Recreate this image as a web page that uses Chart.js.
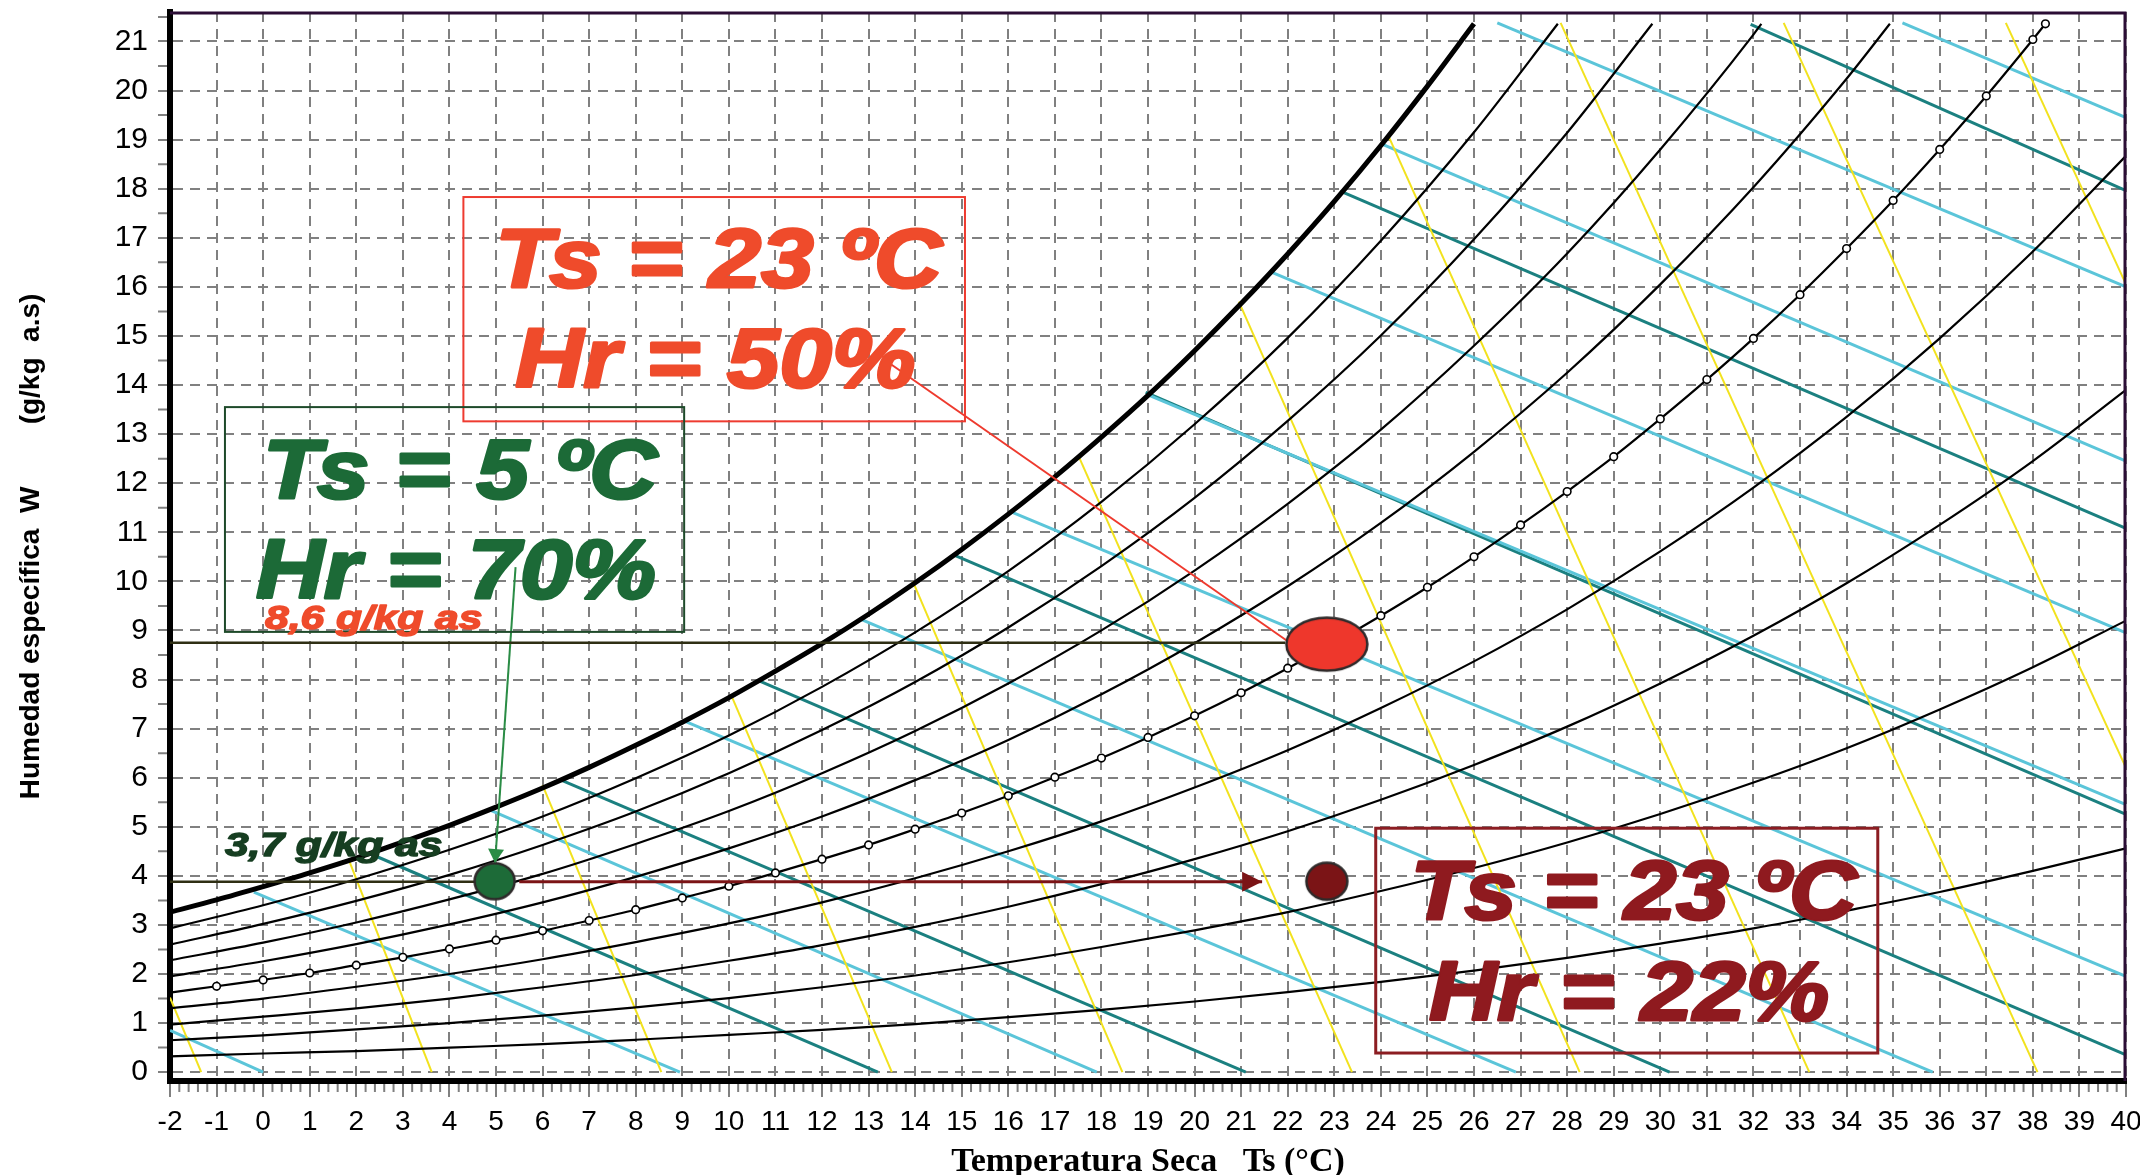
<!DOCTYPE html>
<html>
<head>
<meta charset="utf-8">
<title>Diagrama psicrométrico</title>
<script src="https://cdn.jsdelivr.net/npm/chart.js@4.4.1/dist/chart.umd.min.js"></script>
<style>
  html, body { margin: 0; padding: 0; background: #fff; }
  #chart { display: block; }
</style>
</head>
<body>
<canvas id="chart" width="2140" height="1175"></canvas>
<script>
// Dry-bulb temperatures (°C) at which the curves were read
const tInt = [-2,-1,0,1,2,3,4,5,6,7,8,9,10,11,12,13,14,15,16,17,18,19,20,21,22,23,24,25,26,27,28,29,30,31,32,33,34,35,36,37,38];
const tEven = [-2,0,2,4,6,8,10,12,14,16,18,20,22,24,26,28,30,32,34,36,38,40];

// Specific humidity W (g/kg a.s) along each relative humidity curve
const rh100 = [3.26,3.51,3.78,4.06,4.36,4.69,5.03,5.40,5.79,6.21,6.66,7.13,7.63,8.17,8.73,9.33,9.97,10.65,11.37,12.13,12.94,13.79,14.70,15.66,16.67,17.74,18.88,20.09,21.36];
const rh90 = [2.93,3.40,3.93,4.53,5.21,5.99,6.86,7.85,8.96,10.21,11.62,13.20,14.96,16.94,19.15];
const rh80 = [2.60,3.02,3.49,4.02,4.63,5.31,6.09,6.97,7.95,9.06,10.31,11.70,13.27,15.01,16.97,19.14];
const rh70 = [2.28,2.64,3.05,3.52,4.04,4.65,5.32,6.09,6.95,7.92,9.00,10.22,11.58,13.09,14.80,16.68,18.80,21.14];
const rh60 = [1.95,2.26,2.61,3.01,3.46,3.98,4.56,5.21,5.95,6.77,7.70,8.74,9.90,11.19,12.64,14.25,16.05,18.03,20.24];
const rh50 = [1.62,1.75,1.88,2.02,2.18,2.34,2.51,2.69,2.88,3.09,3.31,3.55,3.79,4.06,4.34,4.63,4.95,5.28,5.63,6.01,6.40,6.82,7.26,7.73,8.23,8.75,9.30,9.88,10.50,11.15,11.83,12.54,13.31,14.11,14.95,15.84,16.78,17.76,18.80,19.89,21.04];
const rh40 = [1.30,1.50,1.74,2.00,2.30,2.65,3.03,3.46,3.95,4.50,5.11,5.80,6.56,7.42,8.37,9.43,10.61,11.91,13.35,14.95,16.72,18.67];
const rh30 = [0.97,1.13,1.30,1.50,1.73,1.98,2.27,2.59,2.96,3.37,3.83,4.34,4.91,5.55,6.26,7.04,7.92,8.89,9.96,11.15,12.45,13.90];
const rh20 = [0.65,0.75,0.87,1.00,1.15,1.32,1.51,1.73,1.97,2.24,2.55,2.89,3.26,3.69,4.16,4.68,5.26,5.90,6.60,7.39,8.25,9.20];
const rh10 = [0.32,0.38,0.43,0.50,0.57,0.66,0.76,0.86,0.98,1.12,1.27,1.44,1.63,1.84,2.07,2.33,2.62,2.93,3.29,3.67,4.10,4.56];

// where the upper curves stop at the top of the chart
const curveTopW = 21.36;
const rh90Top = 27.8, rh80Top = 29.83, rh70Top = 32.17, rh60Top = 34.93, rh50Top = 38.27;

// straight families: [T1, W1, T2, W2]
const yellowLines = [
  [-2, 1.52, -1.33, 0], [1.85, 4.3, 3.62, 0], [6.0, 5.85, 8.55, 0], [10.05, 7.68, 13.5, 0],
  [13.95, 10.0, 18.45, 0], [17.5, 12.57, 23.38, 0], [20.95, 15.7, 28.27, 0], [24.15, 19.1, 33.2, 0],
  [27.86, 21.38, 38.1, 0], [32.65, 21.38, 40, 6.2], [37.42, 21.38, 40, 16.05]
];
const cyanLines = [
  [-2, 0.85, 0, 0], [-0.2, 3.67, 8.95, 0], [4.85, 5.35, 17.9, 0], [9.05, 7.15, 26.9, 0],
  [12.85, 9.22, 35.85, 0], [16.05, 11.42, 40, 1.95], [19.0, 13.8, 40, 5.45], [21.65, 16.3, 40, 8.95],
  [24.05, 18.9, 40, 12.45], [26.5, 21.38, 40, 16.0], [35.2, 21.38, 40, 19.45]
];
const tealLines = [
  [2.3, 4.45, 13.2, 0], [6.4, 5.95, 21.1, 0], [10.65, 7.97, 30.2, 0], [14.8, 10.55, 40, 0.35],
  [18.95, 13.85, 40, 5.25], [23.13, 17.95, 40, 11.08], [31.94, 21.35, 40, 17.96]
];

// the air states and the guide lines between them
const stateT = [4.97, 22.84, 22.84];
const stateW = [3.89, 8.72, 3.89];
const guideLines = [[-2, 8.75, 21.95, 8.75], [-2, 3.88, 4.55, 3.88]];
const heatArrow = [5.5, 3.88, 21.45, 3.88];
const redLeader = [13.38, 14.49, 21.97, 8.8];
const greenLeader = [5.42, 10.29, 4.98, 4.26];

function curve(ts, ws, topT) {
  const d = ws.map((w, i) => ({x: ts[i], y: w}));
  if (topT !== undefined) d.push({x: topT, y: curveTopW});
  return d;
}
function seg(l) { return [{x: l[0], y: l[1]}, {x: l[2], y: l[3]}]; }

function blob(w, h, fill) {
  const c = document.createElement('canvas');
  c.width = w + 5; c.height = h + 5;
  const g = c.getContext('2d');
  g.beginPath();
  g.ellipse(c.width / 2, c.height / 2, w / 2, h / 2, 0, 0, Math.PI * 2);
  g.fillStyle = fill; g.fill();
  g.lineWidth = 2.5; g.strokeStyle = '#2e2a2a'; g.stroke();
  return c;
}

const datasets = [];
const stateStyles = [blob(40, 36, '#1d6b38'), blob(81, 53, '#ee372c'), blob(41, 37, '#7b1416')];
stateStyles.forEach((st, i) => datasets.push({
  data: [{x: stateT[i], y: stateW[i]}], pointStyle: st, pointRadius: 10, showLine: false, order: 0
}));

const lineBase = {showLine: true, pointRadius: 0, fill: false, tension: 0};
guideLines.forEach(l => datasets.push({...lineBase, data: seg(l), borderColor: '#2f2f14', borderWidth: 2.5, order: 1}));
datasets.push({...lineBase, data: seg(heatArrow), borderColor: '#7b1416', borderWidth: 3, order: 1});
datasets.push({...lineBase, data: seg(redLeader), borderColor: '#ee3a2e', borderWidth: 2, order: 1});
datasets.push({...lineBase, data: seg(greenLeader), borderColor: '#2a8c45', borderWidth: 2, order: 1});

const curveBase = {...lineBase, cubicInterpolationMode: 'monotone', borderColor: '#000', order: 2};
datasets.push({...curveBase, data: curve(tInt, rh100), borderWidth: 5});
datasets.push({...curveBase, data: curve(tEven, rh90, rh90Top), borderWidth: 2.2});
datasets.push({...curveBase, data: curve(tEven, rh80, rh80Top), borderWidth: 2.2});
datasets.push({...curveBase, data: curve(tEven, rh70, rh70Top), borderWidth: 2.2});
datasets.push({...curveBase, data: curve(tEven, rh60, rh60Top), borderWidth: 2.2});
datasets.push({...curveBase, data: curve(tInt, rh50, rh50Top), borderWidth: 2.2,
  pointRadius: c => (c.raw && c.raw.x > -1.5 ? 3.8 : 0),
  pointBackgroundColor: '#fff', pointBorderColor: '#000', pointBorderWidth: 1.6});
datasets.push({...curveBase, data: curve(tEven, rh40), borderWidth: 2.2});
datasets.push({...curveBase, data: curve(tEven, rh30), borderWidth: 2.2});
datasets.push({...curveBase, data: curve(tEven, rh20), borderWidth: 2.2});
datasets.push({...curveBase, data: curve(tEven, rh10), borderWidth: 2.2});

yellowLines.forEach(l => datasets.push({...lineBase, data: seg(l), borderColor: '#f2e21e', borderWidth: 2, order: 3}));
cyanLines.forEach(l => datasets.push({...lineBase, data: seg(l), borderColor: '#5bc5d9', borderWidth: 3, order: 3}));
tealLines.forEach(l => datasets.push({...lineBase, data: seg(l), borderColor: '#1b8080', borderWidth: 3, order: 3}));

// annotation boxes and texts, placed in chart units
const boxes = [
  {t1: 4.30, t2: 15.07, w1: 17.83, w2: 13.26, color: '#ee3b30', width: 2},
  {t1: -0.82, t2: 9.04, w1: 13.55, w2: 8.97, color: '#1e4a2a', width: 2},
  {t1: 23.89, t2: 34.67, w1: 4.97, w2: 0.39, color: '#8c1d22', width: 3}
];
const notes = [
  {text: 'Ts = 23 ºC', t: 9.78, w: 15.99, color: '#ef4b2b', size: 84, sx: 1.12, align: 'center'},
  {text: 'Hr = 50%', t: 9.71, w: 13.95, color: '#ef4b2b', size: 84, sx: 1.12, align: 'center'},
  {text: 'Ts = 5 ºC', t: 4.23, w: 11.70, color: '#1c6a37', size: 84, sx: 1.12, align: 'center'},
  {text: 'Hr = 70%', t: 4.14, w: 9.66, color: '#1c6a37', size: 84, sx: 1.12, align: 'center'},
  {text: 'Ts = 23 ºC', t: 29.43, w: 3.13, color: '#8f1a1f', size: 84, sx: 1.12, align: 'center'},
  {text: 'Hr = 22%', t: 29.33, w: 1.06, color: '#8f1a1f', size: 84, sx: 1.12, align: 'center'},
  {text: '8,6 g/kg as', t: 0.04, w: 9.03, color: '#ef4b2b', size: 34, sx: 1.25, align: 'left'},
  {text: '3,7 g/kg as', t: -0.82, w: 4.40, color: '#163e21', size: 34, sx: 1.25, align: 'left'}
];

function arrowHead(ctx, x, y, l, len, half, color) {
  const x1 = x.getPixelForValue(l[0]), y1 = y.getPixelForValue(l[1]);
  const x2 = x.getPixelForValue(l[2]), y2 = y.getPixelForValue(l[3]);
  const a = Math.atan2(y2 - y1, x2 - x1);
  ctx.save();
  ctx.translate(x2, y2); ctx.rotate(a);
  ctx.beginPath();
  ctx.moveTo(0, 0); ctx.lineTo(-len, -half); ctx.lineTo(-len, half); ctx.closePath();
  ctx.fillStyle = color; ctx.fill();
  ctx.restore();
}

const overlay = {
  id: 'overlay',
  afterDatasetsDraw(chart) {
    const {ctx, scales: {x, y}} = chart;
    ctx.save();
    boxes.forEach(b => {
      const l = x.getPixelForValue(b.t1), r = x.getPixelForValue(b.t2);
      const t = y.getPixelForValue(b.w1), btm = y.getPixelForValue(b.w2);
      ctx.strokeStyle = b.color; ctx.lineWidth = b.width;
      ctx.strokeRect(l, t, r - l, btm - t);
    });
    notes.forEach(n => {
      ctx.save();
      ctx.translate(x.getPixelForValue(n.t), y.getPixelForValue(n.w));
      ctx.scale(n.sx, 1);
      ctx.font = `italic bold ${n.size}px "Liberation Sans", Arial, sans-serif`;
      ctx.textAlign = n.align; ctx.textBaseline = 'alphabetic';
      ctx.fillStyle = n.color; ctx.strokeStyle = n.color;
      ctx.lineWidth = n.size > 50 ? 3 : 1.5; ctx.lineJoin = 'round';
      ctx.strokeText(n.text, 0, 0);
      ctx.fillText(n.text, 0, 0);
      ctx.restore();
    });
    arrowHead(ctx, x, y, heatArrow, 20, 10, '#7b1416');
    arrowHead(ctx, x, y, greenLeader, 14, 8, '#2a8c45');
    ctx.restore();
  },
  afterDraw(chart) {
    const {ctx, chartArea: a, scales: {x, y}} = chart;
    ctx.save();
    // minor ticks
    ctx.strokeStyle = '#808080'; ctx.lineWidth = 2;
    ctx.beginPath();
    for (let i = 1; i < 210; i++) {
      if (i % 5 === 0) continue;
      const px = x.getPixelForValue(-2 + i / 5);
      ctx.moveTo(px, a.bottom + 3); ctx.lineTo(px, a.bottom + 11);
    }
    for (let i = 0; i <= 21; i++) {
      const py = y.getPixelForValue(i + 0.5);
      ctx.moveTo(a.left - 12, py); ctx.lineTo(a.left - 3, py);
    }
    ctx.stroke();
    // thin top and right frame
    ctx.strokeStyle = '#2b0d35'; ctx.lineWidth = 3;
    ctx.beginPath();
    ctx.moveTo(a.left, a.top + 1); ctx.lineTo(a.right - 1, a.top + 1); ctx.lineTo(a.right - 1, a.bottom);
    ctx.stroke();
    ctx.restore();
  }
};

const tickFont = '"Liberation Sans", Arial, sans-serif';

new Chart(document.getElementById('chart'), {
  type: 'scatter',
  data: {datasets},
  options: {
    responsive: false,
    animation: false,
    devicePixelRatio: 1,
    events: [],
    layout: {padding: {left: 0, top: 12, right: 14, bottom: 0}},
    plugins: {legend: {display: false}, tooltip: {enabled: false}},
    scales: {
      x: {
        type: 'linear', min: -2, max: 40,
        ticks: {stepSize: 1, includeBounds: false, autoSkip: false, maxRotation: 0, color: '#000', padding: 8,
          font: {family: tickFont, size: 28}},
        grid: {color: '#808080', lineWidth: 2, tickLength: 16, tickColor: '#808080', tickWidth: 2},
        border: {display: true, color: '#000', width: 6, dash: [10, 7]},
        title: {display: true, text: 'Temperatura Seca   Ts (°C)', color: '#000',
          font: {family: '"Liberation Serif", "Times New Roman", serif', size: 34, weight: 'bold'},
          padding: {top: 0, bottom: -8}},
        afterFit(s) { s.height = 94; s.paddingLeft = 0; s.paddingRight = 0; }
      },
      y: {
        type: 'linear', min: -0.18, max: 21.6,
        ticks: {stepSize: 1, includeBounds: false, autoSkip: false, color: '#000', padding: 10,
          font: {family: tickFont, size: 30}},
        grid: {color: '#808080', lineWidth: 2, tickLength: 12, tickColor: '#808080', tickWidth: 2},
        border: {display: true, color: '#000', width: 6, dash: [10, 7]},
        title: {display: true, text: 'Humedad específica  W        (g/kg  a.s)', color: '#000',
          font: {family: tickFont, size: 28, weight: 'bold'},
          padding: {top: 14, bottom: 0}},
        afterFit(s) { s.width = 170; s.paddingTop = 0; s.paddingBottom = 0; }
      }
    }
  },
  plugins: [overlay]
});
</script>
</body>
</html>
